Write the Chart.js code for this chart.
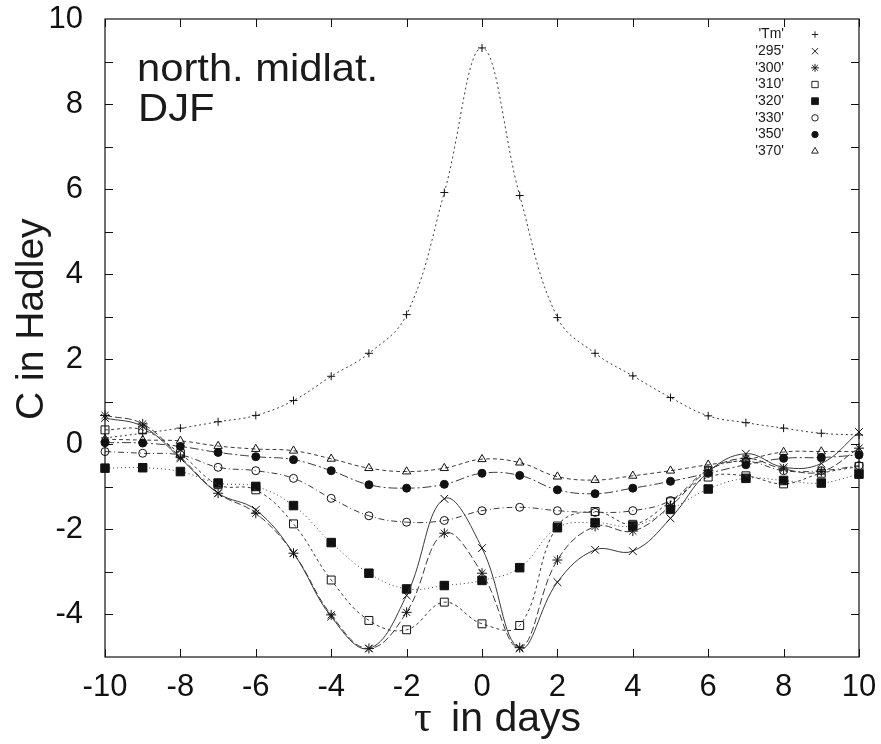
<!DOCTYPE html>
<html><head><meta charset="utf-8">
<script src="https://cdn.jsdelivr.net/npm/chart.js@4.4.1/dist/chart.umd.min.js"></script>
<style>html,body{margin:0;padding:0;background:#fff;}canvas{display:block;}</style>
</head><body>
<canvas id="c" width="881" height="744"></canvas>
<script>
const tau = [-10,-9,-8,-7,-6,-5,-4,-3,-2,-1,0,1,2,3,4,5,6,7,8,9,10];
const seriesNames = ["'Tm'","'295'","'300'","'310'","'320'","'330'","'350'","'370'"];
const Tm   = [0.15,0.26,0.38,0.53,0.68,1.03,1.60,2.14,3.05,5.92,9.32,5.85,2.98,2.14,1.61,1.10,0.67,0.51,0.38,0.26,0.22];
const s295 = [0.62,0.42,-0.33,-1.15,-1.54,-2.56,-4.05,-4.80,-3.55,-1.28,-2.44,-4.80,-3.24,-2.48,-2.51,-1.74,-0.65,-0.22,-0.54,-0.45,0.29];
const s300 = [0.68,0.48,-0.30,-1.15,-1.62,-2.56,-4.01,-4.80,-3.95,-2.09,-3.03,-4.78,-2.72,-1.93,-2.04,-1.45,-0.62,-0.33,-0.58,-0.64,-0.09];
const s310 = [0.34,0.34,-0.22,-0.95,-1.07,-1.87,-3.19,-4.14,-4.36,-3.71,-4.22,-4.26,-1.92,-1.58,-1.88,-1.35,-0.77,-0.74,-0.93,-0.68,-0.52];
const s320 = [-0.56,-0.55,-0.64,-0.91,-0.99,-1.44,-2.31,-3.03,-3.40,-3.32,-3.20,-2.90,-1.96,-1.84,-1.92,-1.53,-1.05,-0.80,-0.85,-0.91,-0.70];
const s330 = [-0.17,-0.21,-0.25,-0.54,-0.62,-0.80,-1.27,-1.68,-1.83,-1.79,-1.56,-1.48,-1.56,-1.60,-1.56,-1.32,-0.60,-0.40,-0.62,-0.62,-0.50];
const s350 = [0.04,0.03,-0.05,-0.19,-0.29,-0.36,-0.62,-0.95,-1.03,-0.94,-0.68,-0.73,-1.07,-1.16,-1.03,-0.87,-0.68,-0.48,-0.33,-0.31,-0.25];
const s370 = [0.12,0.10,0.08,-0.04,-0.11,-0.15,-0.34,-0.56,-0.64,-0.56,-0.35,-0.43,-0.76,-0.84,-0.74,-0.62,-0.48,-0.36,-0.18,-0.17,-0.17];
const xTicks = [-10,-8,-6,-4,-2,0,2,4,6,8,10];
const yTicks = [-4,-3,-2,-1,0,1,2,3,4,5,6,7,8,9];
const noteLines = ["north. midlat.","DJF"];
const xTitleSymbol = "\u03c4";
const xTitleRest = " in days";
const yTitle = "C in Hadley";

const allSeries = [Tm,s295,s300,s310,s320,s330,s350,s370];
const styles = [
  {ps:'cross',    r:4,   fill:false, dash:[2,3]},
  {ps:'crossRot', r:5.5, fill:false, dash:[]},
  {ps:'star',     r:5,   fill:false, dash:[7,3]},
  {ps:'rect',     r:5.6, fill:false, dash:[3,3]},
  {ps:'rect',     r:6,   fill:true,  dash:[1,3]},
  {ps:'circle',   r:4,   fill:false, dash:[6,3,1,3]},
  {ps:'circle',   r:4,   fill:true,  dash:[9,3,2,3]},
  {ps:'triangle', r:4.8, fill:false, dash:[4,3]}
];
const FONT = "'Liberation Sans', Arial, Helvetica, sans-serif";

const datasets = allSeries.map((vals,i)=>({
  label: seriesNames[i],
  data: tau.map((t,k)=>({x:t,y:vals[k]})),
  borderColor:'#3a3a3a',
  borderWidth:1,
  borderDash: styles[i].dash,
  tension:0.4,
  pointStyle: styles[i].ps,
  pointRadius: styles[i].r,
  pointBorderColor:'#111',
  pointBorderWidth:1,
  pointBackgroundColor: styles[i].fill ? '#111' : 'rgba(0,0,0,0)',
  clip: 12,
  fill:false
}));

const framePlugin = {
  id:'frame',
  afterDatasetsDraw(chart){
    const {ctx, chartArea:{left,right,top,bottom}, scales:{x,y}} = chart;
    ctx.save();
    ctx.strokeStyle='#111'; ctx.lineWidth=1.2; ctx.setLineDash([]);
    ctx.strokeRect(left,top,right-left,bottom-top);
    ctx.lineWidth=1;
    const L=8;
    ctx.beginPath();
    xTicks.forEach(v=>{const p=Math.round(x.getPixelForValue(v))+0.5;
      ctx.moveTo(p,bottom); ctx.lineTo(p,bottom-L);
      ctx.moveTo(p,top); ctx.lineTo(p,top+L);});
    yTicks.forEach(v=>{const p=Math.round(y.getPixelForValue(v))+0.5;
      ctx.moveTo(left,p); ctx.lineTo(left+L,p);
      ctx.moveTo(right,p); ctx.lineTo(right-L,p);});
    ctx.stroke();
    ctx.restore();
  },
  afterDraw(chart){
    const {ctx, chartArea:{left,top,right,bottom}} = chart;
    ctx.save();
    ctx.fillStyle='#1a1a1a';
    ctx.textAlign='left'; ctx.textBaseline='alphabetic';
    // annotation
    ctx.save();
    ctx.font = "39px "+FONT;
    ctx.translate(left+32, top+62); ctx.scale(1.07,1);
    ctx.fillText(noteLines[0], 0, 0);
    ctx.fillText(noteLines[1], 1, 40);
    ctx.restore();
    // axis titles
    ctx.save();
    ctx.translate(43, 420); ctx.rotate(-Math.PI/2);
    ctx.font = "39px "+FONT;
    ctx.fillText(yTitle, 0, 0);
    ctx.restore();
    ctx.font = "44px 'Liberation Serif', 'DejaVu Serif', serif";
    ctx.fillText(xTitleSymbol, 414, 731);
    const wSym = ctx.measureText(xTitleSymbol).width;
    ctx.font = "41px "+FONT;
    ctx.fillText(xTitleRest, 414 + wSym + 8, 731);
    // legend
    ctx.font = "14px "+FONT;
    ctx.textAlign='right'; ctx.textBaseline='middle';
    seriesNames.forEach((n,i)=>{
      const yy = top + 15.5 + i*16.67;
      ctx.fillStyle='#1a1a1a';
      ctx.fillText(n, right-75, yy);
      ctx.strokeStyle='#222'; ctx.lineWidth=1; ctx.setLineDash([]);
      ctx.fillStyle = styles[i].fill ? '#111' : 'rgba(0,0,0,0)';
      Chart.helpers.drawPoint(ctx, {pointStyle:styles[i].ps, radius: styles[i].r*0.8, borderWidth:1}, right-44, yy);
    });
    ctx.restore();
  }
};

new Chart(document.getElementById('c'), {
  type:'line',
  data:{datasets},
  options:{
    responsive:false, animation:false, devicePixelRatio:1,
    layout:{padding:{left:0,right:22,top:19,bottom:0}},
    plugins:{legend:{display:false}, tooltip:{enabled:false}},
    scales:{
      x:{type:'linear', min:-10, max:10,
        afterFit(s){s.height=87; s.paddingLeft=0; s.paddingRight=0; s.paddingTop=0; s.paddingBottom=0;},
        grid:{display:false, drawTicks:false}, border:{display:false},
        ticks:{stepSize:2, color:'#111', padding:12, font:{size:31, family:FONT}},
        title:{display:false}
      },
      y:{type:'linear', min:-5, max:10,
        afterFit(s){s.width=105; s.paddingLeft=0; s.paddingRight=0; s.paddingTop=0; s.paddingBottom=0;},
        grid:{display:false, drawTicks:false}, border:{display:false},
        ticks:{stepSize:2, color:'#111', padding:22, font:{size:31, family:FONT},
          callback:v=> (v%2===0 && v>-5) ? String(v) : ''},
        title:{display:false}
      }
    }
  },
  plugins:[framePlugin]
});
</script>
</body></html>
